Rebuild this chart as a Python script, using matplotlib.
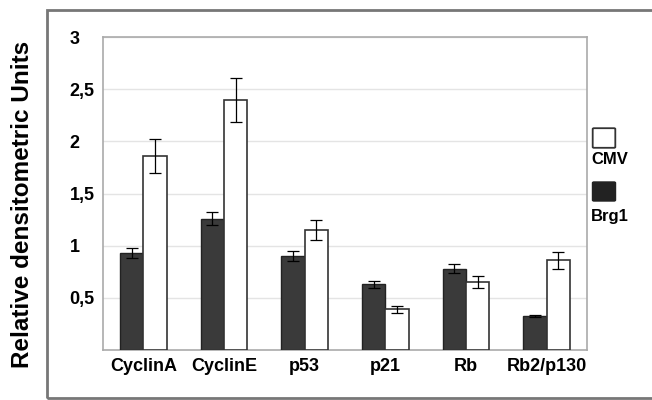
import matplotlib
matplotlib.use("Agg")
import matplotlib.pyplot as plt
import matplotlib.patches as patches
import numpy as np

plt.rcParams["font.family"] = ["Liberation Sans", "DejaVu Sans"]
plt.rcParams["font.weight"] = "bold"

# values
genes = ["CyclinA", "CyclinE", "p53", "p21", "Rb", "Rb2/p130"]
brg1 = [0.93, 1.26, 0.90, 0.63, 0.78, 0.33]
brg1_err = [0.045, 0.065, 0.05, 0.035, 0.045, 0.01]
cmv = [1.86, 2.40, 1.15, 0.39, 0.65, 0.86]
cmv_err = [0.16, 0.21, 0.10, 0.035, 0.055, 0.08]
yticks = [0.5, 1, 1.5, 2, 2.5, 3]
ytick_labels = ["0,5", "1", "1,5", "2", "2,5", "3"]

fig = plt.figure(figsize=(6.52, 4.0), dpi=100)
ax = fig.add_axes([103 / 652, 50 / 400, 484 / 652, 313 / 400])

x = np.arange(len(genes))
w = 0.29

ax.bar(x - w / 2, brg1, w, color="#3a3a3a", edgecolor="#222222", linewidth=1,
       yerr=brg1_err, capsize=4, error_kw=dict(ecolor="black", elinewidth=0.9, capthick=0.9),
       zorder=3)
ax.bar(x + w / 2, cmv, w, color="white", edgecolor="#333333", linewidth=1.2,
       yerr=cmv_err, capsize=4, error_kw=dict(ecolor="black", elinewidth=0.9, capthick=0.9),
       zorder=3)

ax.set_xlim(-0.5, len(genes) - 0.5)
ax.set_ylim(0, 3)
ax.set_yticks(yticks)
ax.set_yticklabels(ytick_labels, ha="left")
ax.set_xticks(x)
ax.set_xticklabels(genes)
ax.tick_params(axis="both", length=0, labelsize=13)
ax.tick_params(axis="y", pad=24)
ax.tick_params(axis="x", pad=6)
for lab in ax.get_xticklabels() + ax.get_yticklabels():
    lab.set_fontweight("bold")

ax.yaxis.grid(True, color="#e4e4e4", linewidth=1, zorder=0)
for s in ax.spines.values():
    s.set_color("#aaaaaa")
    s.set_linewidth(1.2)

# outer frame
fig.add_artist(patches.Rectangle((47 / 652, 2 / 400), 0.95, 388 / 400,
                                 transform=fig.transFigure, fill=False,
                                 edgecolor="#777777", linewidth=2))

fig.text(23 / 652, 0.49, "Relative densitometric Units", rotation=90,
         ha="center", va="center", fontsize=17.5, fontweight="bold")

# legend
fig.add_artist(patches.FancyBboxPatch((594 / 652, 1 - 147 / 400), 20 / 652, 18 / 400,
                                      boxstyle="round,pad=0.002", transform=fig.transFigure,
                                      facecolor="white", edgecolor="#333333", linewidth=1.3))
fig.text(591 / 652, 1 - 159 / 400, "CMV", ha="left", va="center", fontsize=12,
         fontweight="bold")
fig.add_artist(patches.FancyBboxPatch((594 / 652, 1 - 200 / 400), 20 / 652, 17 / 400,
                                      boxstyle="round,pad=0.002", transform=fig.transFigure,
                                      facecolor="#222222", edgecolor="#222222", linewidth=1.3))
fig.text(591 / 652, 1 - 217 / 400, "Brg1", ha="left", va="center", fontsize=12,
         fontweight="bold")

fig.savefig("out.png", dpi=100)
